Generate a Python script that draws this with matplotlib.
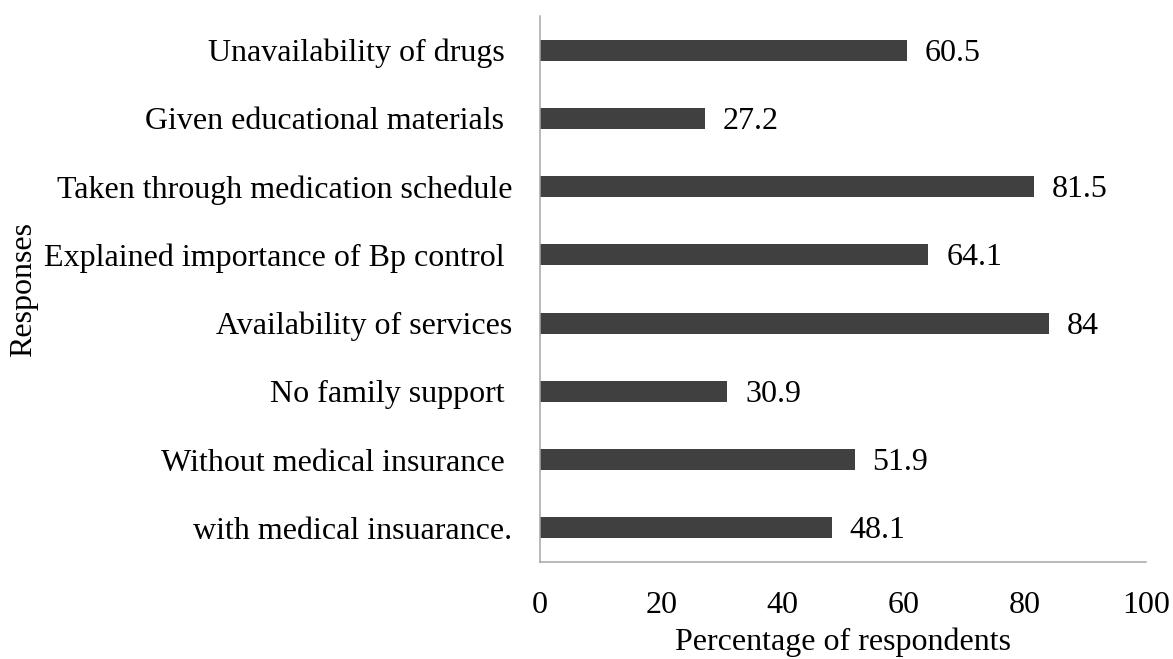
import matplotlib
matplotlib.use("Agg")
import matplotlib.pyplot as plt

# Survey responses, listed top to bottom
categories = [
    "Unavailability of drugs ",
    "Given educational materials ",
    "Taken through medication schedule",
    "Explained importance of Bp control ",
    "Availability of services",
    "No family support ",
    "Without medical insurance ",
    "with medical insuarance.",
]
percentages = [60.5, 27.2, 81.5, 64.1, 84, 30.9, 51.9, 48.1]
value_labels = ["60.5", "27.2", "81.5", "64.1", "84", "30.9", "51.9", "48.1"]
xticks = [0, 20, 40, 60, 80, 100]

FS = 23
plt.rcParams["font.family"] = ["Liberation Serif", "DejaVu Serif"]
plt.rcParams["font.size"] = FS

fig = plt.figure(figsize=(11.73, 6.59), dpi=100)
ax = fig.add_axes([0.4604, 0.1472, 0.5166, 0.8285])

n = len(categories)
ypos = list(range(n - 1, -1, -1))
ax.barh(ypos, percentages, height=0.31, color="#404040")

for y, v, lab in zip(ypos, percentages, value_labels):
    ax.annotate(lab, xy=(v, y), xytext=(13, -0.33 * FS), textcoords="offset points",
                va="baseline", ha="left", fontsize=FS, color="black")

ax.set_xlim(0, 100)
ax.set_ylim(-0.5, n - 0.5)
ax.set_xticks(xticks)
ax.set_xticklabels([str(t) for t in xticks])
ax.set_yticks(ypos)
ax.set_yticklabels(categories)
ax.tick_params(axis="both", length=0)
ax.tick_params(axis="y", pad=20)
ax.tick_params(axis="x", pad=21)

for side in ("top", "right"):
    ax.spines[side].set_visible(False)
for side in ("left", "bottom"):
    ax.spines[side].set_color("#a6a6a6")
    ax.spines[side].set_linewidth(1.1)

ax.set_xlabel("Percentage of respondents", fontsize=FS, labelpad=5)
ax.set_ylabel("Responses", fontsize=FS)
ax.yaxis.set_label_coords(-0.828, 0.5)

fig.savefig("out.png", dpi=100)
